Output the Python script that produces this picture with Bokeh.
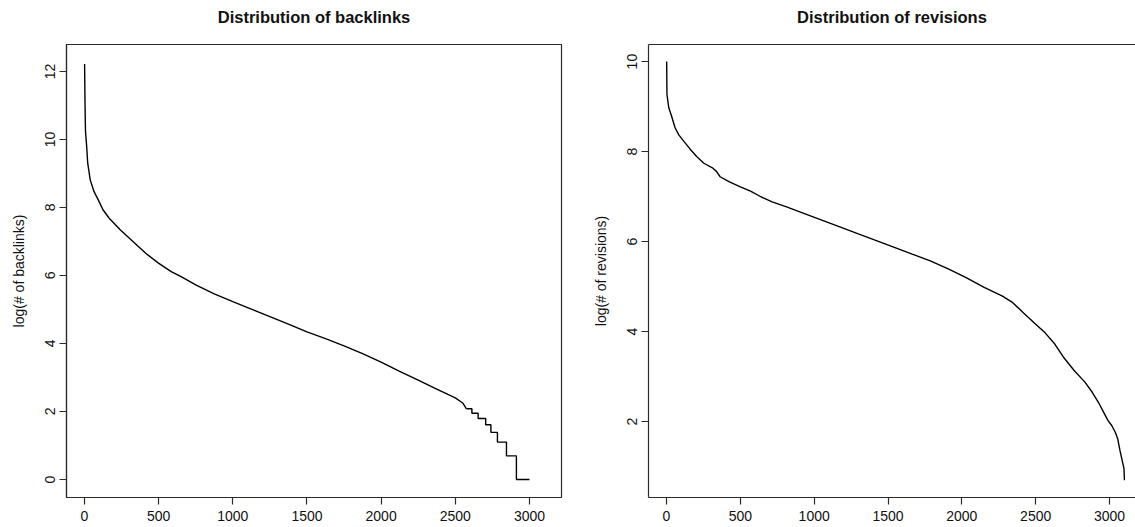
import math
from bokeh.plotting import figure
from bokeh.layouts import row
from bokeh.models import Range1d, FixedTicker, LinearAxis
from bokeh.embed import file_html
from bokeh.resources import INLINE

# ---------------- data ----------------
x_ticks = [0, 500, 1000, 1500, 2000, 2500, 3000]
backlink_y_ticks = [0, 2, 4, 6, 8, 10, 12]
revision_y_ticks = [2, 4, 6, 8, 10]

# Backlinks: sorted log(# of backlinks) by rank (smooth part)
backlink_rank = [1, 4, 7, 15, 22, 39, 64, 93, 125, 167, 241, 314, 413, 499, 585,
                 658, 750, 875, 1000, 1125, 1250, 1375, 1500, 1625, 1750, 1875,
                 2000, 2125, 2250, 2375, 2450, 2500, 2550, 2575]
backlink_log = [12.22, 11.0, 10.24, 9.79, 9.30, 8.81, 8.47, 8.22, 7.93, 7.68, 7.34,
                7.05, 6.65, 6.36, 6.11, 5.95, 5.72, 5.46, 5.23, 5.01, 4.79, 4.57,
                4.34, 4.14, 3.93, 3.70, 3.45, 3.18, 2.92, 2.66, 2.50, 2.40, 2.25, 2.079]
# Backlinks: stepped tail (rank where each integer count level starts)
backlink_tail_rank = [2575, 2612, 2654, 2705, 2740, 2784, 2845, 2912, 3000]
backlink_tail_count = [8, 7, 6, 5, 4, 3, 2, 1, 1]

# Revisions: sorted log(# of revisions) by rank
revision_rank = [1, 3, 15, 34, 58, 83, 119, 156, 204, 253, 314, 338, 363, 423, 496,
                 569, 642, 715, 813, 934, 1056, 1178, 1299, 1421, 1543, 1664, 1786,
                 1908, 2029, 2151, 2272, 2345, 2418, 2491, 2564, 2625, 2686, 2759,
                 2832, 2881, 2929, 2966, 2990, 3015, 3039, 3056, 3071, 3088, 3098, 3101]
revision_log = [10.0, 9.27, 8.98, 8.79, 8.53, 8.37, 8.22, 8.07, 7.89, 7.74, 7.63,
                7.56, 7.44, 7.33, 7.22, 7.12, 6.99, 6.88, 6.77, 6.62, 6.47, 6.32,
                6.17, 6.02, 5.87, 5.72, 5.57, 5.39, 5.20, 4.98, 4.79, 4.64, 4.41,
                4.19, 3.97, 3.74, 3.44, 3.14, 2.88, 2.66, 2.40, 2.17, 2.02, 1.91,
                1.76, 1.61, 1.35, 1.10, 0.95, 0.693]

titles = ["Distribution of backlinks", "Distribution of revisions"]

FONT = "Liberation Sans"
BOX = "#2b2b2b"


def style(p, title, ylabel, yticks):
    p.title = None
    # top border line, carrying the panel title as its label
    top = LinearAxis(ticker=FixedTicker(ticks=[]), major_tick_out=0,
                     major_tick_in=0, minor_tick_out=0, minor_tick_in=0,
                     major_label_standoff=0, axis_line_color=BOX,
                     axis_line_width=1.2, major_tick_line_color=None,
                     axis_label=title, axis_label_standoff=19,
                     axis_label_text_font=FONT, axis_label_text_font_style="bold",
                     axis_label_text_font_size="16.5px",
                     axis_label_text_color="#111111")
    p.add_layout(top, "above")
    p.xgrid.visible = False
    p.ygrid.visible = False
    p.below[0].ticker = FixedTicker(ticks=x_ticks)
    p.left[0].ticker = FixedTicker(ticks=yticks)
    for ax in (p.below[0], p.left[0]):
        ax.major_tick_in = 0
        ax.major_tick_out = 7
        ax.minor_tick_in = 0
        ax.minor_tick_out = 0
        ax.axis_line_color = BOX
        ax.axis_line_width = 1.2
        ax.major_tick_line_color = BOX
        ax.major_tick_line_width = 1.2
        ax.major_label_text_font = FONT
        ax.major_label_text_font_size = "14px"
        ax.major_label_text_color = "#111111"
        ax.axis_label_text_font = FONT
        ax.axis_label_text_font_style = "normal"
        ax.axis_label_text_font_size = "14px"
        ax.axis_label_text_color = "#111111"
    p.below[0].major_label_standoff = 6
    p.left[0].major_label_standoff = 4
    p.left[0].major_label_orientation = "vertical"
    p.left[0].axis_label = ylabel
    p.left[0].axis_label_standoff = 16


# ---------------- left panel ----------------
p1 = figure(width=580, height=527, output_backend="svg", toolbar_location=None,
            x_range=Range1d(-121, 3216), y_range=Range1d(-0.53, 12.79),
            min_border_left=66, min_border_right=19, min_border_top=44,
            min_border_bottom=30)
style(p1, titles[0], "log(# of backlinks)", backlink_y_ticks)
p1.outline_line_color = BOX
p1.outline_line_width = 1.2
p1.outline_line_alpha = 1
p1.line(backlink_rank, backlink_log, line_color="black", line_width=1.4)
p1.step(backlink_tail_rank, [math.log(c) for c in backlink_tail_count],
        mode="after", line_color="black", line_width=1.4)

# ---------------- right panel ----------------
p2 = figure(width=555, height=527, output_backend="svg", toolbar_location=None,
            x_range=Range1d(-122, 3176), y_range=Range1d(0.31, 10.38),
            min_border_left=68, min_border_right=0, min_border_top=44,
            min_border_bottom=30)
style(p2, titles[1], "log(# of revisions)", revision_y_ticks)
p2.outline_line_color = None
p2.line(revision_rank, revision_log, line_color="black", line_width=1.4)

layout = row(p1, p2)
layout.spacing = 0

open("out.html", "w").write(file_html(layout, INLINE))
